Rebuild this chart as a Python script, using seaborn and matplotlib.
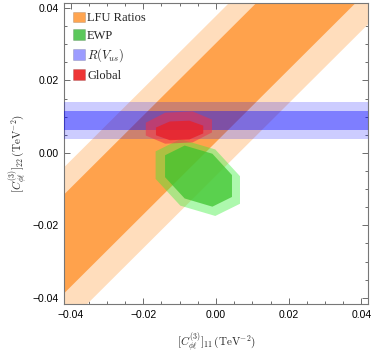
import numpy as np
import matplotlib
matplotlib.use("Agg")
import matplotlib.pyplot as plt
import seaborn as sns
from matplotlib.patches import Patch
from matplotlib.ticker import MultipleLocator, FuncFormatter

# LFU ratios: diagonal band, values are (y - x) limits
lfu_outer = [-0.0063, 0.0378]
lfu_inner = [0.0030, 0.0303]
# R(Vus): horizontal band limits
vus_outer = [0.0039, 0.0141]
vus_inner = [0.0063, 0.0116]
# regions: centre x, centre y, half width x, half width y, correlation
ewp_outer = [-0.0050, -0.0068, 0.0116, 0.0098, -0.35]
ewp_inner = [-0.0048, -0.0064, 0.0092, 0.0078, -0.35]
glob_outer = [-0.0102, 0.0070, 0.0091, 0.0043, 0.1]
glob_inner = [-0.0100, 0.0062, 0.0065, 0.0026, 0.1]

legend_labels = ["LFU Ratios", "EWP", r"$R(V_{us})$", "Global"]
legend_colors = ["#FFA551", "#5CC85C", "#9C9CFF", "#EE3535"]

lim = 0.0418

sns.set_theme(style="ticks")
plt.rcParams["font.family"] = ["Liberation Sans", "DejaVu Sans"]
plt.rcParams["mathtext.fontset"] = "cm"

fig = plt.figure(figsize=(3.74, 3.55), dpi=100)
ax = fig.add_axes([0.171, 0.1437, 0.813, 0.848])

# orange bands
xs = np.linspace(-lim, lim, 50)
ax.fill_between(xs, xs + lfu_outer[0], xs + lfu_outer[1], color="#FFDDBC", lw=0, zorder=1)
ax.fill_between(xs, xs + lfu_inner[0], xs + lfu_inner[1], color="#FFA24C", lw=0, zorder=2)

# blue band
ax.axhspan(vus_outer[0], vus_outer[1], color="#0000FF", alpha=0.2, lw=0, zorder=3)
ax.axhspan(vus_inner[0], vus_inner[1], color="#0000FF", alpha=0.38, lw=0, zorder=3)


def octagon(p):
    # coarse outline of the correlated ellipse (the original is drawn this way)
    cx, cy, a, b, r = p
    t = np.pi / 8 + np.arange(8) * np.pi / 4
    k = 1 / np.cos(np.pi / 8)
    x = cx + k * a * np.cos(t)
    y = cy + k * b * (r * np.cos(t) + np.sqrt(1 - r * r) * np.sin(t))
    return x, y


ax.fill(*octagon(ewp_outer), color="#33EE33", alpha=0.4, lw=0, zorder=4)
ax.fill(*octagon(ewp_inner), color="#3FC42F", alpha=0.75, lw=0, zorder=5)
ax.fill(*octagon(glob_outer), color="#F03048", alpha=0.55, lw=0, zorder=6)
ax.fill(*octagon(glob_inner), color="#E8202A", alpha=0.8, lw=0, zorder=7)

ax.set_xlim(-lim, lim)
ax.set_ylim(-0.0417, 0.0414)
ax.xaxis.set_major_locator(MultipleLocator(0.02))
ax.yaxis.set_major_locator(MultipleLocator(0.02))
ax.xaxis.set_minor_locator(MultipleLocator(0.005))
ax.yaxis.set_minor_locator(MultipleLocator(0.005))
ax.tick_params(which="both", direction="in", top=True, right=True, colors="#555555",
               labelcolor="black", labelsize=7.5, width=0.6)
ax.tick_params(which="major", length=4, pad=4)
ax.tick_params(which="minor", length=2.5)
for s in ax.spines.values():
    s.set_color("#777777")
    s.set_linewidth(0.8)
fmt = FuncFormatter(lambda v, _: f"{v:.2f}".replace("-", "\u2212"))
ax.xaxis.set_major_formatter(fmt)
ax.yaxis.set_major_formatter(fmt)

ax.set_xlabel(r"$[C_{\phi\ell}^{(3)}]_{11}\,(\mathrm{TeV}^{-2})$", fontsize=8, labelpad=8)
ax.set_ylabel(r"$[C_{\phi\ell}^{(3)}]_{22}\,(\mathrm{TeV}^{-2})$", fontsize=8, labelpad=1)

handles = [Patch(facecolor=c, edgecolor="#00000030", lw=0.5) for c in legend_colors]
leg = ax.legend(handles, legend_labels, loc="upper left", frameon=False,
                prop={"family": "Liberation Serif", "size": 9},
                handlelength=0.95, handleheight=0.95, handletextpad=0.2,
                labelspacing=0.38, borderaxespad=0.3)
leg.set_zorder(10)

fig.savefig("out.png", dpi=100)
